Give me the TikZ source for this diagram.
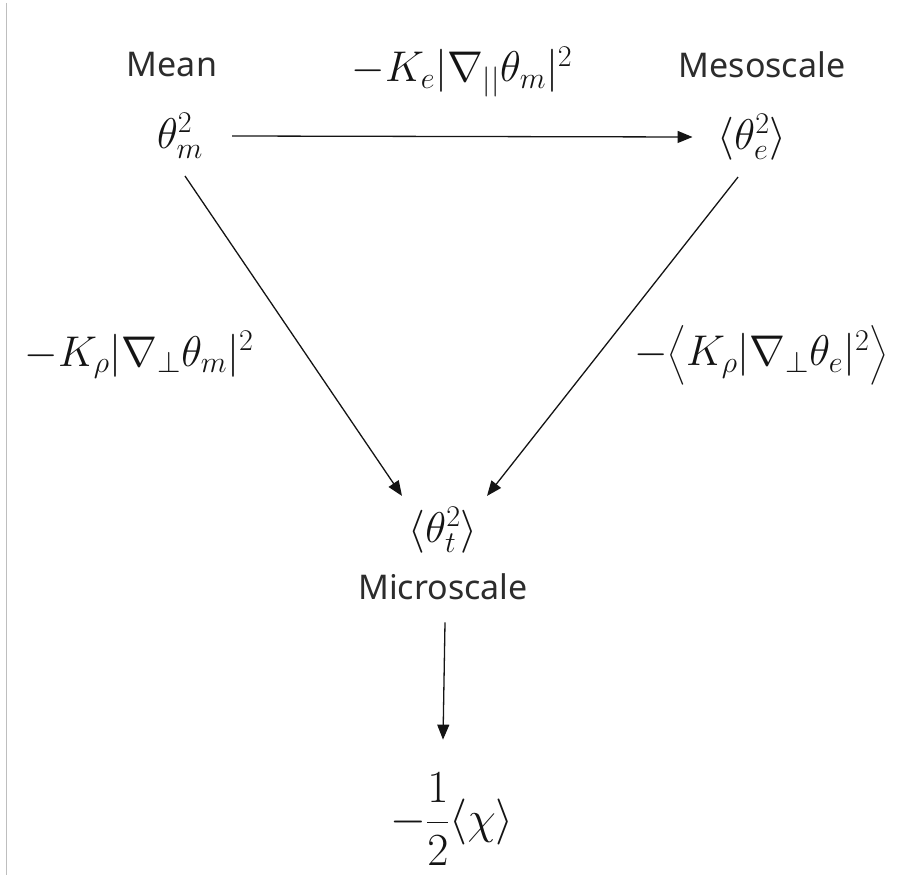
\RequirePackage{fix-cm}
\documentclass[tikz,border=0pt]{standalone}
\usepackage{amsmath}
\usepackage{fontspec}
\setsansfont{Noto Sans}
\usetikzlibrary{arrows.meta}

\begin{document}
\begin{tikzpicture}[x=1pt, y=-1pt, >={Triangle[length=15pt,width=12pt]}]
  \definecolor{ink}{RGB}{20,20,20}
  \definecolor{edge}{RGB}{190,190,190}
  \tikzset{
    scalelab/.style={font=\sffamily\fontsize{34}{40}\selectfont, text=ink!90, inner sep=0pt},
    qty/.style={font=\fontsize{43}{50}\selectfont, text=ink, inner sep=0pt},
    flow/.style={->, draw=ink, line width=1.3pt},
  }
  \useasboundingbox (0,0) rectangle (904,875);
  \draw[edge, line width=1pt] (6,3) -- (6,875);

  % the three scales
  \node[scalelab] (meanlab) at (172,65) {Mean};
  \node[qty] (mean) at (180,136) {$\theta_m^2$};
  \node[scalelab] (mesolab) at (762,65) {Mesoscale};
  \node[qty] (meso) at (752,137) {$\langle\theta_e^2\rangle$};
  \node[qty] (micro) at (443,530) {$\langle\theta_t^2\rangle$};
  \node[scalelab] (microlab) at (443,587) {Microscale};
  \node[qty, font=\fontsize{46}{54}\selectfont] (chi) at (452,819) {$-\dfrac{1}{2}\langle\chi\rangle$};

  % transfer terms
  \node[qty] (toplab) at (462,72) {$-K_e|\nabla_{||}\theta_m|^2$};
  \node[qty] (leftlab) at (139,355) {$-K_\rho|\nabla_\perp\theta_m|^2$};
  \node[qty] (rightlab) at (761,355) {$-\bigl\langle K_\rho|\nabla_\perp\theta_e|^2\bigr\rangle$};

  \draw[flow] ([xshift=29pt]mean.east) -- ([xshift=-25pt]meso.west);
  \draw[flow] ([xshift=5pt,yshift=-17pt]mean.south) -- ([xshift=-41pt,yshift=11pt]micro.north);
  \draw[flow] ([xshift=-14pt,yshift=-17pt]meso.south) -- ([xshift=44pt,yshift=11pt]micro.north);
  \draw[flow] ([xshift=2pt,yshift=-22pt]microlab.south) -- ([yshift=33pt]microlab.south |- chi.north);
\end{tikzpicture}
\end{document}
